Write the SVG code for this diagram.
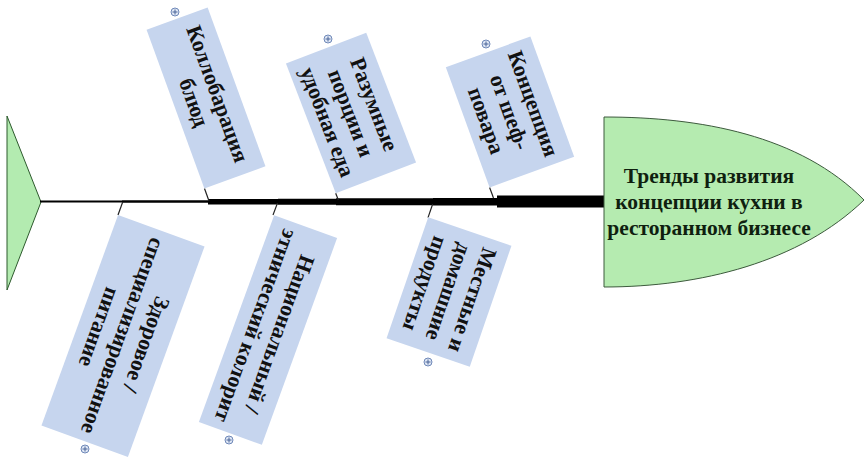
<svg xmlns="http://www.w3.org/2000/svg" width="867" height="460" viewBox="0 0 867 460">
<defs>
<style>
.box{fill:#c6d5ee;stroke:none}
.bt{font-family:"Liberation Serif","Times New Roman",serif;font-weight:bold;font-size:22px;fill:#111;text-anchor:middle}
.ht{font-family:"Liberation Serif","Times New Roman",serif;font-weight:bold;font-size:21.5px;fill:#0f1f0f;text-anchor:middle}
.bone{stroke:#222;stroke-width:1.2;fill:none}
.pc{fill:#dfe7f5;stroke:#6f88b8;stroke-width:1}
.pl{stroke:#4a6498;stroke-width:1}
</style>
<g id="plus"><circle class="pc" r="4"/><path class="pl" d="M-2.5,0H2.5M0,-2.5V2.5"/></g>
</defs>
<rect width="867" height="460" fill="#fff"/>

<g id="tail"><polygon points="7,116 41,202 7,290" fill="#b3ebb0" stroke="#2d5a2d" stroke-width="1"/></g>

<g id="connectors">
<polygon fill="#000" points="40,200.5 122,200.5 122,200.2 208,200.2 208,199 278,199 278,198.7 336,198.7 336,198.3 433,198.3 433,198 497,198 497,195.5 605,195.5 605,207.5 497,207.5 497,205.5 433,205.5 433,205.2 336,205.2 336,204.8 278,204.8 278,204.5 208,204.5 208,202.8 122,202.8 122,202.5 40,202.5"/>
<line class="bone" x1="204.5" y1="188.5" x2="209" y2="201"/>
<line class="bone" x1="335.7" y1="193.3" x2="338.3" y2="200"/>
<line class="bone" x1="489.6" y1="187.5" x2="493.5" y2="198"/>
<line class="bone" x1="118" y1="215" x2="122.7" y2="202"/>
<line class="bone" x1="273" y1="215" x2="277.5" y2="203"/>
<line class="bone" x1="428" y1="217.6" x2="432.7" y2="204"/>
</g>

<g id="head">
<path d="M604,117 C700,117 800,135 864,200 C800,262 700,287 604,287 Z" fill="#b5ebb0" stroke="#3d5a3d" stroke-width="1"/>
<text class="ht" x="709" y="183">Тренды развития</text>
<text class="ht" x="709" y="209">концепции кухни в</text>
<text class="ht" x="709" y="235">ресторанном бизнесе</text>
</g>

<g id="b1" transform="translate(206,98) rotate(70)">
<rect class="box" x="-84.5" y="-32.5" width="169" height="65"/>
<text class="bt" x="0" y="-5">Коллобарация</text>
<text class="bt" x="0" y="20">блюд</text>
</g>
<use href="#plus" x="175" y="12"/>

<g id="b2" transform="translate(351,113) rotate(69)">
<rect class="box" x="-69.5" y="-43" width="139" height="86"/>
<text class="bt" x="0" y="-17.5">Разумные</text>
<text class="bt" x="0" y="7.5">порции и</text>
<text class="bt" x="0" y="32.5">удобная еда</text>
</g>
<use href="#plus" x="328" y="39"/>

<g id="b3" transform="translate(510,112) rotate(70)">
<rect class="box" x="-64" y="-45" width="128" height="90"/>
<text class="bt" x="0" y="-17.5">Концепция</text>
<text class="bt" x="0" y="7.5">от шеф-</text>
<text class="bt" x="0" y="32.5">повара</text>
</g>
<use href="#plus" x="486" y="44"/>

<g id="b4" transform="translate(123,336) rotate(110)">
<rect class="box" x="-112" y="-46" width="224" height="92"/>
<text class="bt" x="0" y="-17.5">Здоровое /</text>
<text class="bt" x="0" y="7.5">специализированное</text>
<text class="bt" x="0" y="32.5">питание</text>
</g>
<use href="#plus" x="85" y="449"/>

<g id="b5" transform="translate(268,330) rotate(110)">
<rect class="box" x="-110" y="-33.5" width="220" height="67"/>
<text class="bt" x="0" y="-5">Национальный /</text>
<text class="bt" x="0" y="20">этнический колорит</text>
</g>
<use href="#plus" x="229" y="440"/>

<g id="b6" transform="translate(449,292) rotate(109)">
<rect class="box" x="-64" y="-44" width="128" height="88"/>
<text class="bt" x="0" y="-17.5">Местные и</text>
<text class="bt" x="0" y="7.5">домашние</text>
<text class="bt" x="0" y="32.5">продукты</text>
</g>
<use href="#plus" x="428" y="362"/>
</svg>
